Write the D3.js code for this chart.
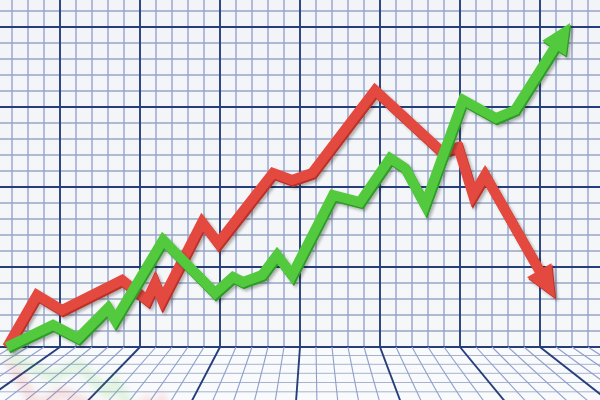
<!DOCTYPE html>
<html><head><meta charset="utf-8">
<script src="https://cdn.jsdelivr.net/npm/d3@7"></script>
<style>html,body{margin:0;padding:0;background:#fff;}svg{display:block;}</style>
</head><body>
<svg id="chart" width="600" height="400"></svg>
<script>
// ---- data (grid units: x = time, y = value) ----
const redX   = [-0.31, 1.56, 3.13, 6.88, 8.44, 8.94, 9.38, 11.88, 12.88, 16.31, 17.5, 18.75, 22.69, 26.88, 27.88, 28.81, 29.56, 33.94];
const redY   = [0, 3.25, 2.31, 4.19, 2.94, 4.0, 2.94, 7.81, 6.5, 10.88, 10.44, 10.88, 16.06, 12.19, 12.5, 9.5, 10.75, 3.06];
const greenX = [-0.31, 2.56, 4.13, 6.0, 6.44, 9.44, 12.69, 13.81, 14.44, 15.63, 16.56, 17.5, 20.06, 21.75, 23.63, 24.56, 25.81, 28.19, 30.25, 31.44, 34.88];
const greenY = [0, 1.38, 0.56, 2.44, 1.69, 6.69, 3.38, 4.38, 4.06, 4.5, 5.75, 4.5, 9.5, 9.06, 11.81, 11.19, 8.88, 15.44, 14.31, 14.81, 20.25];
const gridXTicks = d3.range(-1, 38);   // vertical grid lines (every 5th is major)
const gridYTicks = d3.range(0, 22);    // horizontal grid lines (every 5th is major)

const W = 600, H = 400;
const svg = d3.select("#chart");
const x = d3.scaleLinear().domain([0, 37]).range([12, 604]);
const y = d3.scaleLinear().domain([0, 21]).range([347, 11]);
const floorY = y(0);
const VP = {x: 313, y: 169}; // vanishing point for floor lines

const defs = svg.append("defs");
const wallGrad = defs.append("linearGradient").attr("id","wall").attr("x1",0).attr("y1",0).attr("x2",0).attr("y2",1);
wallGrad.append("stop").attr("offset","0%").attr("stop-color","#f3f4f7");
wallGrad.append("stop").attr("offset","100%").attr("stop-color","#f6f7f9");
const blur = defs.append("filter").attr("id","blur").attr("x","-20%").attr("y","-20%").attr("width","140%").attr("height","140%");
blur.append("feGaussianBlur").attr("stdDeviation", 3.5);
const shadow = defs.append("filter").attr("id","shadow").attr("x","-10%").attr("y","-10%").attr("width","120%").attr("height","120%");
shadow.append("feGaussianBlur").attr("in","SourceAlpha").attr("stdDeviation",1.5).attr("result","b");
shadow.append("feOffset").attr("in","b").attr("dx",1.5).attr("dy",2).attr("result","o");
shadow.append("feComponentTransfer").attr("in","o").attr("result","s").append("feFuncA").attr("type","linear").attr("slope",0.3);
const mg = shadow.append("feMerge");
mg.append("feMergeNode").attr("in","s");
mg.append("feMergeNode").attr("in","SourceGraphic");
defs.append("clipPath").attr("id","floorClip").append("rect")
  .attr("x",0).attr("y",347).attr("width",W).attr("height",H-347);

// wall + floor background
svg.append("rect").attr("x",0).attr("y",0).attr("width",W).attr("height",floorY).attr("fill","url(#wall)");
svg.append("rect").attr("x",0).attr("y",floorY).attr("width",W).attr("height",H-floorY).attr("fill","#f9fafc");

const isMajorX = d => ((d - 3) % 5 + 5) % 5 === 0;
const isMajorY = d => d % 5 === 0;
const majorCol = "#263f7c", minorCol = "#8a9dcd";

// wall grid
const wall = svg.append("g");
wall.selectAll("line.v").data(gridXTicks.filter(d => !isMajorX(d))).join("line")
  .attr("x1", d => x(d)).attr("x2", d => x(d)).attr("y1", 0).attr("y2", floorY)
  .attr("stroke", minorCol).attr("stroke-width", 1.3);
wall.selectAll("line.h").data(gridYTicks.filter(d => !isMajorY(d))).join("line")
  .attr("x1", 0).attr("x2", W).attr("y1", d => y(d)).attr("y2", d => y(d))
  .attr("stroke", "#98a5c6").attr("stroke-width", 1.3);
wall.selectAll("line.hm").data(gridYTicks.filter(d => isMajorY(d))).join("line")
  .attr("x1", 0).attr("x2", W).attr("y1", d => y(d)).attr("y2", d => y(d))
  .attr("stroke", majorCol).attr("stroke-width", 1.9);
wall.selectAll("line.vm").data(gridXTicks.filter(d => isMajorX(d))).join("line")
  .attr("x1", d => x(d)).attr("x2", d => x(d)).attr("y1", 0).attr("y2", floorY)
  .attr("stroke", majorCol).attr("stroke-width", 1.9);

// floor grid
const floor = svg.append("g");
const floorRows = [0, 8.5, 17.3, 26.3, 35.5, 44.8, 54.3];
floor.selectAll("line.fh").data(floorRows.slice(1)).join("line")
  .attr("x1", 0).attr("x2", W).attr("y1", d => floorY + d).attr("y2", d => floorY + d)
  .attr("stroke", "#a9b3cf").attr("stroke-width", 1);
const endX = px => px + (px - VP.x) * (H + 5 - floorY) / (floorY - VP.y);
floor.selectAll("line.fv").data(gridXTicks).join("line")
  .attr("x1", d => x(d)).attr("y1", floorY)
  .attr("x2", d => endX(x(d))).attr("y2", H + 5)
  .attr("stroke", d => isMajorX(d) ? majorCol : "#8e9fcb")
  .attr("stroke-width", d => isMajorX(d) ? 1.9 : 1.1);

// series
const series = [
  {xs: redX, ys: redY, color: "#e4493f", dark: "#b8322a", headLen: 32, headHalf: 14},
  {xs: greenX, ys: greenY, color: "#52c93e", dark: "#2f9a2a", headLen: 30, headHalf: 14}
];
const lineGen = d3.line().x(d => d[0]).y(d => d[1]);

function geom(s) {
  const pts = s.xs.map((v, i) => [x(v), y(s.ys[i])]);
  const tip = pts[pts.length - 1], prev = pts[pts.length - 2];
  const dx = tip[0] - prev[0], dy = tip[1] - prev[1], L = Math.hypot(dx, dy);
  const ux = dx / L, uy = dy / L;
  const base = [tip[0] - ux * s.headLen, tip[1] - uy * s.headLen];
  const body = pts.slice(0, -1).concat([[base[0] + ux * 2, base[1] + uy * 2]]);
  const head = [tip, [base[0] - uy * s.headHalf, base[1] + ux * s.headHalf], [base[0] + uy * s.headHalf, base[1] - ux * s.headHalf]];
  return {body, head};
}

// faint reflections on the floor
const reflWrap = svg.append("g").attr("clip-path", "url(#floorClip)");
const refl = reflWrap.append("g").attr("filter", "url(#blur)").attr("opacity", 0.14)
  .attr("transform", `translate(0,${2 * floorY + 8}) scale(1,-1)`);
series.forEach(s => {
  const g = geom(s);
  refl.append("path").attr("d", lineGen(g.body)).attr("fill", "none")
    .attr("stroke", s.color).attr("stroke-width", 11);
});

const linesG = svg.append("g");
series.forEach(s => {
  const g = geom(s);
  const grp = linesG.append("g").attr("filter", "url(#shadow)");
  grp.append("path").attr("d", lineGen(g.body)).attr("fill", "none")
    .attr("stroke", s.dark).attr("stroke-width", 10)
    .attr("stroke-linejoin", "miter").attr("stroke-miterlimit", 6)
    .attr("transform", "translate(1.2,1.8)");
  grp.append("path").attr("d", lineGen(g.head) + "Z").attr("fill", s.dark)
    .attr("transform", "translate(1.2,1.8)");
  grp.append("path").attr("d", lineGen(g.body)).attr("fill", "none")
    .attr("stroke", s.color).attr("stroke-width", 10)
    .attr("stroke-linejoin", "miter").attr("stroke-miterlimit", 6);
  grp.append("path").attr("d", lineGen(g.head) + "Z").attr("fill", s.color);
});
</script>
</body></html>
